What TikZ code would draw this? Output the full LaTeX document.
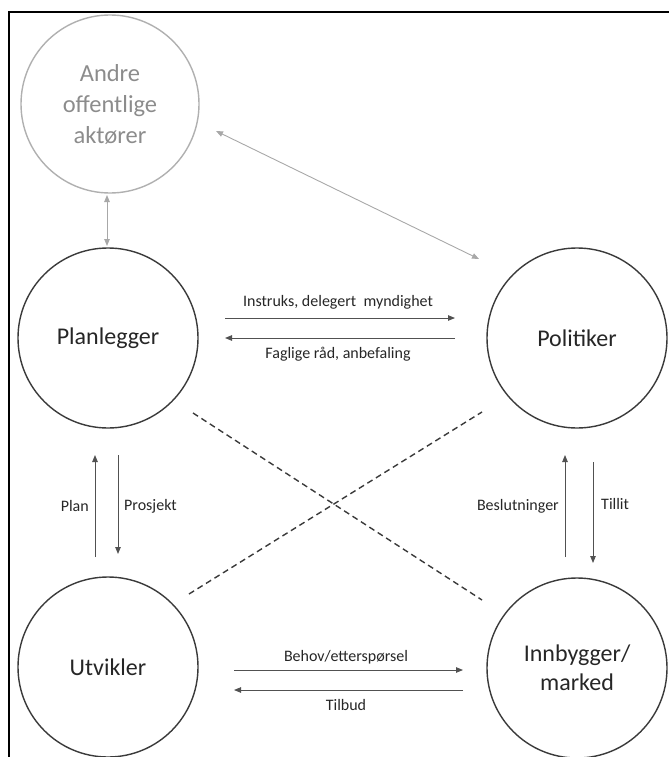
\documentclass[tikz,border=0pt]{standalone}
\usepackage{fontspec}
\setmainfont{Carlito}
\usetikzlibrary{arrows.meta,calc}
\definecolor{ink}{HTML}{262626}
\definecolor{rim}{HTML}{3A3A3A}
\definecolor{lightrim}{HTML}{B0B0B0}
\definecolor{greytext}{HTML}{8C8C8C}
\definecolor{greyarrow}{HTML}{A8A8A8}
\begin{document}
\begin{tikzpicture}[x=1pt,y=-1pt,
  actor/.style={circle,draw=rim,line width=1.4pt,minimum size=180pt,inner sep=0pt,align=center,text=ink,font=\fontsize{24}{29}\selectfont},
  greyactor/.style={circle,draw=lightrim,line width=1.4pt,minimum size=178pt,inner sep=0pt,align=center,text=greytext,font=\fontsize{24.5}{31}\selectfont},
  flow/.style={draw=ink!80,line width=0.9pt,-{Triangle[length=7pt,width=5.5pt]}},
  greyflow/.style={draw=greyarrow,line width=0.9pt,{Triangle[length=7pt,width=5.5pt]}-{Triangle[length=7pt,width=5.5pt]}},
  lbl/.style={text=ink,font=\fontsize{16}{19}\selectfont,inner sep=1pt},
  divider/.style={draw=rim,line width=1.4pt,dash pattern=on 6pt off 4pt}]
\useasboundingbox (0,0) rectangle (669,757);
% frame
\draw[line width=2pt,black] (9,757) -- (9,12) -- (669,12);
% actors
\node[greyactor] (andre) at (110,104) {Andre\\offentlige\\aktører};
\node[actor] (plan) at (108,338) {Planlegger};
\node[actor] (pol) at (577,338) {Politiker};
\node[actor] (utv) at (108,667) {Utvikler};
\node[actor] (inn) at (577,668) {Innbygger/\\marked};
% arrow end points
\coordinate (a1s) at (225,318); \coordinate (a1e) at (455,318);
\coordinate (a2s) at (455,338); \coordinate (a2e) at (225,338);
\coordinate (b1s) at (234,670); \coordinate (b1e) at (463,670);
\coordinate (b2s) at (463,690); \coordinate (b2e) at (234,690);
\coordinate (l1s) at (95,557); \coordinate (l1e) at (95,455);
\coordinate (l2s) at (118,455); \coordinate (l2e) at (118,554);
\coordinate (r1s) at (565,557); \coordinate (r1e) at (565,455);
\coordinate (r2s) at (593,462); \coordinate (r2e) at (593,563);
\coordinate (g1s) at (107,195); \coordinate (g1e) at (107,246);
\coordinate (g2s) at (216,131); \coordinate (g2e) at (479,259);
\coordinate (d1s) at (193,413); \coordinate (d1e) at (482,600);
\coordinate (d2s) at (189,594); \coordinate (d2e) at (482,412);
% flows
\draw[flow] (a1s) -- (a1e);
\draw[flow] (a2s) -- (a2e);
\draw[flow] (b1s) -- (b1e);
\draw[flow] (b2s) -- (b2e);
\draw[flow] (l1s) -- (l1e);
\draw[flow] (l2s) -- (l2e);
\draw[flow] (r1s) -- (r1e);
\draw[flow] (r2s) -- (r2e);
\draw[greyflow] (g1s) -- (g1e);
\draw[greyflow] (g2s) -- (g2e);
\draw[divider] (d1s) -- (d1e);
\draw[divider] (d2s) -- (d2e);
% labels
\node[lbl] (t1) at (338,302) {Instruks, delegert\ \ myndighet};
\node[lbl] (t2) at (338,354) {Faglige råd, anbefaling};
\node[lbl] (t3) at (346,657) {Behov/etterspørsel};
\node[lbl] (t4) at (346,705) {Tilbud};
\node[lbl,anchor=east] (t5) at (90,506) {Plan};
\node[lbl,anchor=west] (t6) at (123,506) {Prosjekt};
\node[lbl,anchor=east] (t7) at (560,506) {Beslutninger};
\node[lbl,anchor=west] (t8) at (600,504) {Tillit};
\end{tikzpicture}
\end{document}
